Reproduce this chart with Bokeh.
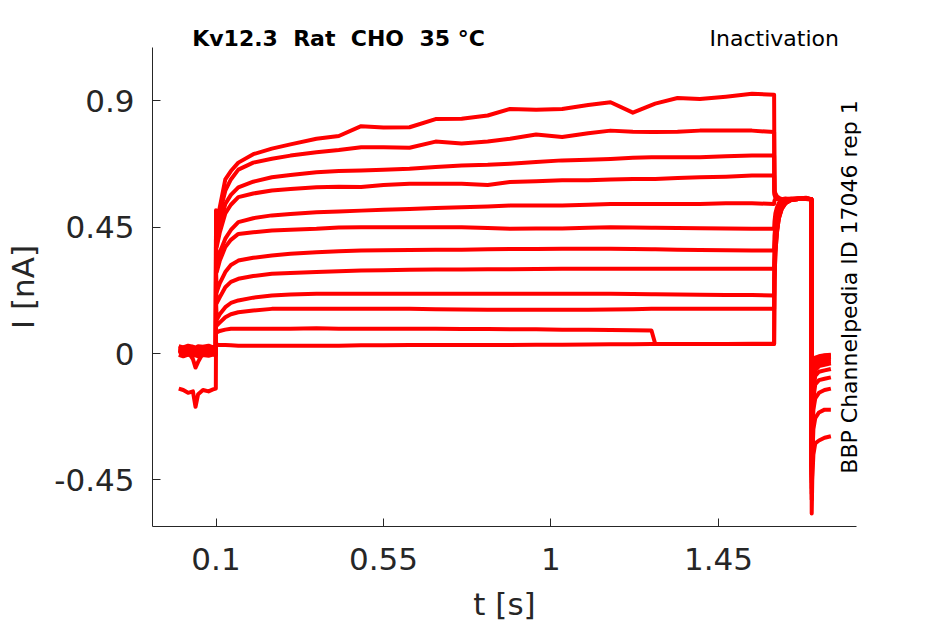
from bokeh.plotting import figure
from bokeh.models import Range1d, FixedTicker, Label, LinearAxis
from bokeh.embed import file_html
from bokeh.resources import INLINE

# ---------------- data ----------------
# time grids (s) of the four protocol segments
HOLD_T = [0.0, 0.012, 0.025, 0.038, 0.045, 0.052, 0.065, 0.08, 0.092, 0.0995]
PULSE_T = [0.1, 0.102, 0.11, 0.125, 0.14, 0.16, 0.2, 0.25, 0.3, 0.37, 0.43, 0.49,
           0.55, 0.62, 0.69, 0.76, 0.83, 0.89, 0.96, 1.03, 1.1, 1.16, 1.22, 1.27,
           1.28, 1.34, 1.4, 1.47, 1.54, 1.5995]
TEST_T = [1.6005, 1.603, 1.607, 1.612, 1.62, 1.63, 1.645, 1.665, 1.685, 1.6995]
TAIL_T = [1.7005, 1.702, 1.705, 1.71, 1.72, 1.735, 1.752]

# current traces (nA): hold + pre-pulse + test pulse + tail
trace_01 = ([0.02, 0.015, 0.02, 0.012, 0.015, 0.018, 0.012, 0.02, 0.015, 0.018]
            + [0.51, 0.45, 0.52, 0.62, 0.65, 0.68, 0.71, 0.73, 0.745, 0.765, 0.775, 0.81,
               0.805, 0.806, 0.835, 0.836, 0.848, 0.871, 0.868, 0.871, 0.885, 0.895, 0.858, 0.885,
               0.89, 0.91, 0.907, 0.915, 0.925, 0.922]
            + [0.58, 0.57, 0.56, 0.555, 0.55, 0.55, 0.548, 0.552, 0.555, 0.55]
            + [-0.57, -0.45, -0.36, -0.32, -0.31, -0.30, -0.295])
trace_02 = ([0.005, 0.01, 0.0, 0.008, 0.004, 0.01, 0.006, 0.0, 0.008, 0.005]
            + [0.49, 0.43, 0.50, 0.58, 0.62, 0.655, 0.68, 0.694, 0.705, 0.717, 0.725, 0.735,
               0.735, 0.733, 0.755, 0.748, 0.755, 0.765, 0.78, 0.771, 0.785, 0.794, 0.79, 0.789,
               0.789, 0.79, 0.794, 0.794, 0.794, 0.789]
            + [0.575, 0.565, 0.555, 0.55, 0.55, 0.548, 0.55, 0.553, 0.552, 0.55]
            + [-0.52, -0.38, -0.27, -0.23, -0.21, -0.20, -0.20])
trace_03 = ([0.012, 0.006, 0.014, 0.01, 0.008, 0.012, 0.016, 0.01, 0.006, 0.012]
            + [0.47, 0.40, 0.46, 0.533, 0.565, 0.592, 0.612, 0.628, 0.636, 0.646, 0.65, 0.652,
               0.655, 0.658, 0.664, 0.67, 0.672, 0.676, 0.682, 0.688, 0.69, 0.693, 0.697, 0.699,
               0.699, 0.699, 0.699, 0.703, 0.705, 0.705]
            + [0.57, 0.56, 0.555, 0.55, 0.548, 0.55, 0.552, 0.55, 0.553, 0.548]
            + [-0.50, -0.33, -0.20, -0.16, -0.14, -0.13, -0.125])
trace_04 = ([0.0, 0.004, -0.004, 0.002, -0.002, 0.003, 0.0, 0.004, -0.003, 0.0]
            + [0.45, 0.38, 0.43, 0.499, 0.53, 0.557, 0.57, 0.581, 0.586, 0.592, 0.594, 0.593,
               0.60, 0.605, 0.605, 0.605, 0.60, 0.611, 0.614, 0.617, 0.617, 0.62, 0.622, 0.622,
               0.622, 0.625, 0.628, 0.63, 0.634, 0.634]
            + [0.565, 0.555, 0.55, 0.548, 0.55, 0.55, 0.55, 0.552, 0.55, 0.55]
            + [-0.48, -0.30, -0.16, -0.11, -0.095, -0.09, -0.085])
trace_05 = ([0.018, 0.022, 0.016, 0.024, 0.02, 0.018, 0.022, 0.016, 0.02, 0.024]
            + [0.40, 0.32, 0.36, 0.409, 0.44, 0.468, 0.482, 0.492, 0.497, 0.503, 0.506, 0.509,
               0.512, 0.515, 0.518, 0.521, 0.524, 0.527, 0.527, 0.527, 0.53, 0.533, 0.533, 0.533,
               0.533, 0.533, 0.533, 0.535, 0.535, 0.533]
            + [0.545, 0.55, 0.55, 0.55, 0.55, 0.552, 0.55, 0.55, 0.553, 0.55]
            + [-0.46, -0.28, -0.13, -0.08, -0.065, -0.06, -0.055])
trace_06 = ([0.008, 0.004, 0.006, -0.02, -0.05, -0.03, 0.002, 0.006, 0.004, 0.008]
            + [0.36, 0.29, 0.33, 0.379, 0.405, 0.426, 0.432, 0.438, 0.441, 0.444, 0.449, 0.45,
               0.45, 0.45, 0.45, 0.45, 0.447, 0.444, 0.445, 0.445, 0.448, 0.45, 0.449, 0.448,
               0.448, 0.447, 0.446, 0.445, 0.444, 0.444]
            + [0.47, 0.50, 0.52, 0.535, 0.545, 0.55, 0.55, 0.552, 0.55, 0.55]
            + [-0.45, -0.26, -0.11, -0.06, -0.045, -0.04, -0.035])
trace_07 = ([0.026, 0.022, 0.028, 0.024, 0.02, 0.026, 0.024, 0.028, 0.022, 0.025]
            + [0.30, 0.22, 0.25, 0.29, 0.315, 0.331, 0.341, 0.349, 0.355, 0.361, 0.364, 0.367,
               0.368, 0.369, 0.37, 0.37, 0.371, 0.372, 0.372, 0.373, 0.373, 0.373, 0.372, 0.371,
               0.371, 0.37, 0.369, 0.368, 0.367, 0.367]
            + [0.42, 0.46, 0.49, 0.515, 0.535, 0.545, 0.55, 0.55, 0.552, 0.55]
            + [-0.44, -0.24, -0.09, -0.045, -0.035, -0.03, -0.028])
trace_08 = ([-0.005, -0.01, -0.004, -0.008, -0.006, -0.01, -0.005, -0.008, -0.004, -0.006]
            + [0.25, 0.18, 0.20, 0.236, 0.255, 0.266, 0.276, 0.284, 0.287, 0.29, 0.293, 0.296,
               0.297, 0.298, 0.299, 0.299, 0.30, 0.30, 0.301, 0.302, 0.302, 0.302, 0.302, 0.302,
               0.302, 0.302, 0.302, 0.302, 0.302, 0.302]
            + [0.38, 0.43, 0.47, 0.50, 0.525, 0.54, 0.548, 0.55, 0.55, 0.55]
            + [-0.43, -0.22, -0.08, -0.035, -0.025, -0.02, -0.02])
trace_09 = ([0.014, 0.01, 0.012, 0.016, 0.01, 0.014, 0.012, 0.016, 0.01, 0.014]
            + [0.19, 0.12, 0.14, 0.165, 0.18, 0.189, 0.199, 0.207, 0.21, 0.213, 0.213, 0.213,
               0.213, 0.213, 0.213, 0.213, 0.213, 0.213, 0.213, 0.213, 0.213, 0.213, 0.212, 0.211,
               0.211, 0.21, 0.209, 0.208, 0.208, 0.207]
            + [0.33, 0.40, 0.45, 0.49, 0.52, 0.54, 0.548, 0.55, 0.55, 0.548]
            + [-0.42, -0.20, -0.07, -0.03, -0.02, -0.015, -0.012])
trace_10 = ([0.003, 0.008, 0.005, 0.01, 0.006, 0.002, 0.008, 0.004, 0.01, 0.006]
            + [0.14, 0.10, 0.11, 0.129, 0.14, 0.147, 0.153, 0.159, 0.159, 0.159, 0.159, 0.159,
               0.159, 0.159, 0.158, 0.157, 0.156, 0.156, 0.156, 0.156, 0.156, 0.157, 0.158, 0.159,
               0.159, 0.159, 0.159, 0.159, 0.159, 0.159]
            + [0.30, 0.38, 0.44, 0.485, 0.52, 0.54, 0.547, 0.55, 0.55, 0.55]
            + [-0.41, -0.19, -0.06, -0.025, -0.015, -0.01, -0.01])
trace_11 = ([0.02, 0.016, 0.024, 0.018, 0.014, 0.02, 0.018, 0.022, 0.016, 0.02]
            + [0.09, 0.075, 0.08, 0.085, 0.088, 0.088, 0.088, 0.088, 0.088, 0.09, 0.088, 0.088,
               0.088, 0.088, 0.088, 0.087, 0.087, 0.086, 0.086, 0.085, 0.085, 0.084, 0.083, 0.082,
               0.035, 0.034, 0.034, 0.034, 0.034, 0.034]
            + [0.26, 0.36, 0.43, 0.48, 0.515, 0.535, 0.547, 0.55, 0.552, 0.55]
            + [-0.40, -0.18, -0.05, -0.02, -0.012, -0.008, -0.006])
trace_12 = ([-0.125, -0.13, -0.14, -0.135, -0.19, -0.145, -0.13, -0.135, -0.128, -0.125]
            + [0.04, 0.03, 0.03, 0.03, 0.029, 0.028, 0.028, 0.028, 0.028, 0.028, 0.028, 0.029,
               0.029, 0.03, 0.03, 0.03, 0.03, 0.03, 0.031, 0.031, 0.032, 0.033, 0.033, 0.034,
               0.034, 0.034, 0.034, 0.034, 0.035, 0.035]
            + [0.26, 0.36, 0.43, 0.48, 0.515, 0.535, 0.547, 0.55, 0.55, 0.55]
            + [-0.40, -0.17, -0.045, -0.015, -0.01, -0.006, -0.004])

X_TICKS = [0.1, 0.55, 1.0, 1.45]
X_TICK_LABELS = ["0.1", "0.55", "1", "1.45"]
Y_TICKS = [-0.45, 0.0, 0.45, 0.9]
Y_TICK_LABELS = ["-0.45", "0", "0.45", "0.9"]

NBSP = "\u00a0"
TITLE = "Kv12.3 " + NBSP + "Rat " + NBSP + "CHO " + NBSP + "35 °C"
PROTOCOL = "Inactivation"
SOURCE = "BBP Channelpedia ID 17046 rep 1"

# ---------------- layout ----------------
FONT = "DejaVu Sans"
AX = "#262626"

# pixel calibration of the reference (page pixels -> data)
def dx(px):
    return 0.1 + (px - 215.5) / 372.2

def dy(py):
    return (353.0 - py) / 280.7

W, H = 945, 624
F_LEFT, F_RIGHT, F_TOP, F_BOTTOM = 152, 856, 47, 526

p = figure(width=W, height=H,
           x_range=Range1d(dx(F_LEFT), dx(F_RIGHT)),
           y_range=Range1d(dy(F_BOTTOM), dy(F_TOP)),
           output_backend="svg", toolbar_location=None,
           min_border_left=F_LEFT, min_border_right=W - F_RIGHT,
           min_border_top=F_TOP, min_border_bottom=H - F_BOTTOM)
p.outline_line_color = None
p.xgrid.visible = False
p.ygrid.visible = False
p.background_fill_color = "white"
p.border_fill_color = "white"

T = HOLD_T + PULSE_T + TEST_T + TAIL_T
traces = [trace_01, trace_02, trace_03, trace_04, trace_05, trace_06,
          trace_07, trace_08, trace_09, trace_10, trace_11, trace_12]
p.multi_line(xs=[T] * len(traces), ys=traces, line_color="#ff0000",
             line_width=4, line_join="round")

for ax in (p.xaxis[0], p.yaxis[0]):
    ax.axis_line_color = AX
    ax.axis_line_width = 1
    ax.major_tick_line_color = AX
    ax.major_tick_in = 8
    ax.major_tick_out = 0
    ax.minor_tick_line_color = None
    ax.major_label_text_font = FONT
    ax.major_label_text_font_size = "31px"
    ax.major_label_text_color = AX
    ax.axis_label_text_font = FONT
    ax.axis_label_text_font_size = "31px"
    ax.axis_label_text_font_style = "normal"
    ax.axis_label_text_color = AX

p.xaxis.ticker = FixedTicker(ticks=X_TICKS)
p.xaxis.major_label_overrides = dict(zip(X_TICKS, X_TICK_LABELS))
p.xaxis.axis_label = "t [s]"
p.xaxis.major_label_standoff = 21
p.xaxis.axis_label_standoff = 13

p.yaxis.ticker = FixedTicker(ticks=Y_TICKS)
p.yaxis.major_label_overrides = dict(zip(Y_TICKS, Y_TICK_LABELS))
p.yaxis.axis_label = "I [nA]"
p.yaxis.major_label_standoff = 18
p.yaxis.axis_label_standoff = 10

# title: label in the top side panel (not clipped), placed in data units
p.add_layout(Label(x=dx(338), y=dy(37.5), text=TITLE, text_align="center",
                   text_baseline="alphabetic", text_font=FONT, text_font_size="22px",
                   text_font_style="bold", text_color="black"), "above")

# protocol name: a bare top axis (outer panel) whose only tick label is the text
PROTOCOL_AT = 1.6
top = LinearAxis(ticker=FixedTicker(ticks=[PROTOCOL_AT]),
                 major_label_overrides={PROTOCOL_AT: PROTOCOL},
                 axis_line_color=None, major_tick_line_color=None,
                 minor_tick_line_color=None, major_tick_in=0, major_tick_out=0,
                 major_label_standoff=-28, major_label_text_font=FONT,
                 major_label_text_font_size="22px", major_label_text_color="black")
p.add_layout(top, "above")

# source: rotated label in the right side panel
p.add_layout(Label(x=dx(849), y=dy(286.5), text=SOURCE, angle=1.5707963,
                   text_align="center", text_baseline="alphabetic", text_font=FONT,
                   text_font_size="22px", text_color="black"), "right")

open("out.html", "w").write(file_html(p, INLINE))
